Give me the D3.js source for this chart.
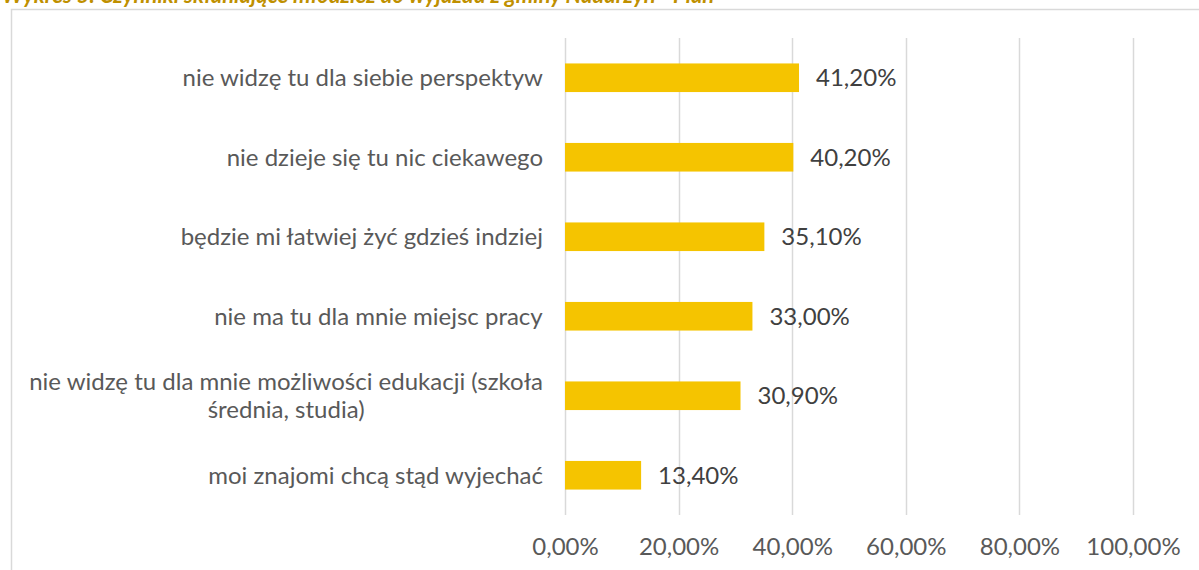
<!DOCTYPE html>
<html><head><meta charset="utf-8">
<script src="https://cdn.jsdelivr.net/npm/d3@7"></script>
<style>body{margin:0;background:#fff}svg{display:block}</style>
</head><body>
<script>
const titleText = "Wykres 5. Czynniki skłaniające młodzież do wyjazdu z gminy Nadarzyn - Plan";
const categories = [
  ["nie widzę tu dla siebie perspektyw"],
  ["nie dzieje się tu nic ciekawego"],
  ["będzie mi łatwiej żyć gdzieś indziej"],
  ["nie ma tu dla mnie miejsc pracy"],
  ["nie widzę tu dla mnie możliwości edukacji (szkoła", "średnia, studia)"],
  ["moi znajomi chcą stąd wyjechać"]
];
const values = [41.2, 40.2, 35.1, 33.0, 30.9, 13.4];
const ticks = [0, 20, 40, 60, 80, 100];

const W = 1199, H = 570;
const svg = d3.select("body").append("svg").attr("width", W).attr("height", H);
const font = "Lato, 'Open Sans', sans-serif";
const fs = 24;

svg.append("text").attr("x", 2).attr("y", 3).text(titleText)
  .attr("font-family", font).attr("font-size", 22).attr("font-weight", "bold")
  .attr("font-style", "italic").attr("fill", "#bf9000");

svg.append("rect").attr("x", 11.5).attr("y", 9.5).attr("width", W).attr("height", H)
  .attr("fill", "none").attr("stroke", "#d9d9d9").attr("stroke-width", 1.5);

const x = d3.scaleLinear().domain([0, 100]).range([565, 1133]);
const y = d3.scaleBand().domain(d3.range(categories.length)).range([38, 515]).paddingInner(0.64).paddingOuter(0.32);

const fmt = v => d3.format(".2f")(v).replace(".", ",") + "%";

svg.append("g").selectAll("line").data(ticks).join("line")
  .attr("x1", d => Math.round(x(d)) + 0.5).attr("x2", d => Math.round(x(d)) + 0.5)
  .attr("y1", 38).attr("y2", 515).attr("stroke", "#d9d9d9").attr("stroke-width", 1.5);

const xAxis = svg.append("g").attr("transform", "translate(0,515)")
  .call(d3.axisBottom(x).tickValues(ticks).tickSize(0).tickPadding(23).tickFormat(fmt));
xAxis.select(".domain").remove();
xAxis.selectAll("text").attr("font-family", font).attr("font-size", fs).attr("fill", "#595959");

svg.append("g").selectAll("rect").data(values).join("rect")
  .attr("x", x(0)).attr("y", (d, i) => y(i)).attr("width", d => x(d) - x(0))
  .attr("height", y.bandwidth()).attr("fill", "#f5c400");

svg.append("g").selectAll("text").data(values).join("text")
  .attr("x", d => x(d) + 17).attr("y", (d, i) => y(i) + y.bandwidth() / 2)
  .attr("dy", "0.35em").text(fmt)
  .attr("font-family", font).attr("font-size", fs).attr("fill", "#404040");

const lab = svg.append("g").selectAll("text").data(categories).join("text")
  .attr("font-family", font).attr("font-size", fs).attr("fill", "#595959")
  .attr("text-anchor", "middle");
lab.each(function(lines, i) {
  const t = d3.select(this);
  const cy = y(i) + y.bandwidth() / 2;
  const lh = 28;
  lines.forEach((l, j) => {
    t.append("tspan").attr("x", 0).attr("y", cy + (j - (lines.length - 1) / 2) * lh).attr("dy", "0.35em").text(l);
  });
});
lab.each(function() {
  const bb = this.getBBox();
  d3.select(this).attr("transform", `translate(${543 - bb.width / 2},0)`);
});
</script>
</body></html>
